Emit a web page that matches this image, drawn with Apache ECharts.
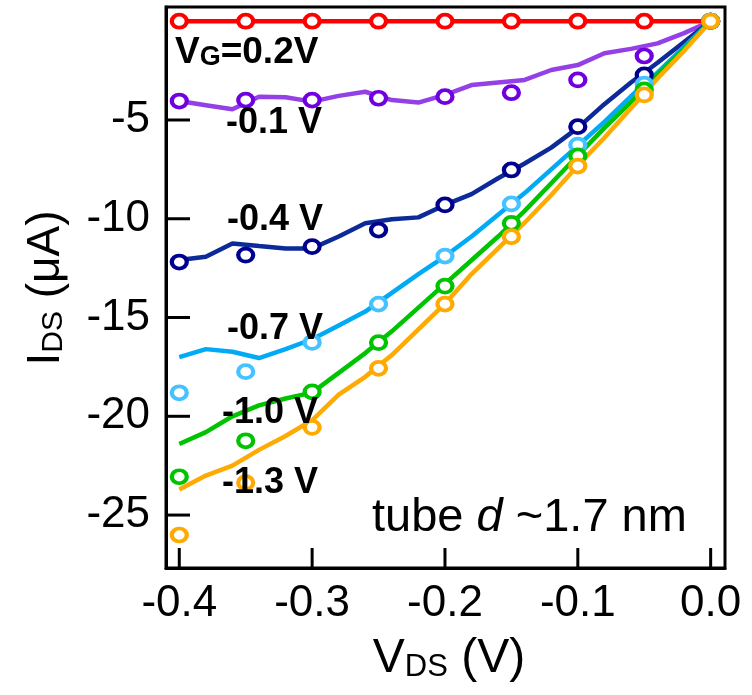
<!DOCTYPE html>
<html><head><meta charset="utf-8">
<script src="https://cdn.jsdelivr.net/npm/echarts@6/dist/echarts.min.js"></script>
<style>html,body{margin:0;padding:0;background:#fff}#c{width:752px;height:695px}</style>
</head><body><div id="c"></div>
<script>
// ---- data ----
const markerX = [-0.40,-0.35,-0.30,-0.25,-0.20,-0.15,-0.10,-0.05,0.00];
const lineX = [-0.40,-0.38,-0.36,-0.34,-0.32,-0.30,-0.28,-0.26,-0.24,-0.22,-0.20,-0.18,-0.16,-0.14,-0.12,-0.10,-0.08,-0.06,-0.04,-0.02,0.00];
const gateNames = ['0.2 V','-0.1 V','-0.4 V','-0.7 V','-1.0 V','-1.3 V'];

const markersVg02  = [0,0,0,0,0,0,0,0,0];
const markersVgm01 = [-4.04,-3.99,-3.99,-3.90,-3.82,-3.62,-2.97,-1.76,0];
const markersVgm04 = [-12.19,-11.84,-11.41,-10.57,-9.30,-7.53,-5.34,-2.72,0];
const markersVgm07 = [-18.81,-17.74,-16.26,-14.32,-11.89,-9.25,-6.27,-3.18,0];
const markersVgm10 = [-23.06,-21.24,-18.76,-16.27,-13.41,-10.23,-6.82,-3.48,0];
const markersVgm13 = [-26.01,-23.36,-20.56,-17.57,-14.32,-10.91,-7.33,-3.73,0];

const lineVg02  = [0,0,0,0,0,0,0,0,0,0,0,0,0,0,0,0,0,0,0,0,0];
const lineVgm01 = [-4.04,-4.25,-4.46,-3.82,-3.85,-4.07,-3.78,-3.57,-3.99,-4.12,-3.73,-3.23,-3.10,-2.97,-2.47,-2.22,-1.62,-1.40,-1.12,-0.60,0];
const lineVgm04 = [-12.09,-11.92,-11.25,-11.38,-11.50,-11.50,-10.90,-10.23,-10.03,-9.93,-9.30,-8.75,-7.95,-7.20,-6.40,-5.40,-4.20,-3.10,-2.10,-1.05,0];
const lineVgm07 = [-17.00,-16.60,-16.73,-17.05,-16.60,-16.10,-15.40,-14.70,-13.75,-12.80,-11.90,-10.90,-9.80,-8.70,-7.50,-6.30,-5.10,-3.80,-2.60,-1.30,0];
const lineVgm10 = [-21.40,-20.80,-20.00,-19.45,-19.10,-18.80,-17.80,-16.80,-15.70,-14.50,-13.30,-12.10,-10.90,-9.60,-8.20,-6.80,-5.40,-4.10,-2.70,-1.40,0];
const lineVgm13 = [-23.70,-23.00,-22.50,-21.70,-21.00,-20.20,-18.90,-18.00,-16.90,-15.60,-14.30,-12.80,-11.50,-10.20,-8.80,-7.30,-5.90,-4.40,-2.90,-1.50,0];

const xTicks = [-0.4,-0.3,-0.2,-0.1,0.0];
const yTicks = [-25,-20,-15,-10,-5];

// ---- styling ----
const X_MIN = -0.41, X_MAX = 0.0108, Y_MIN = -27.68, Y_MAX = 0.72;
const markerVals = [markersVg02,markersVgm01,markersVgm04,markersVgm07,markersVgm10,markersVgm13];
const lineVals = [lineVg02,lineVgm01,lineVgm04,lineVgm07,lineVgm10,lineVgm13];
const lineColors = ['#ff0000','#9340e6','#0c2a98','#00aaf5','#00c400','#ffaa00'];
const markerColors = ['#ff0000','#7000e0','#00008f','#45c2ff','#00c400','#ffaa00'];
const FONT = 'Liberation Sans, Arial, sans-serif';

const series = [];
lineVals.forEach((vals,i)=>{
  series.push({type:'line', name:gateNames[i]+' fit', data: lineX.map((x,j)=>[x, vals[j]]),
    symbol:'none', showSymbol:false, lineStyle:{color:lineColors[i], width:4.5}, z:2, silent:true});
});
markerVals.forEach((vals,i)=>{
  series.push({type:'scatter', name:gateNames[i], data: markerX.map((x,j)=>[x, vals[j]]),
    symbol:'circle', symbolSize:[15,13],
    itemStyle:{color:'#fff', borderColor:markerColors[i], borderWidth:4, opacity:1}, z:3, silent:true});
});
// inward tick marks, positioned through the axis scales (api.coord)
series.push({type:'custom', name:'xticks', z:4, silent:true, clip:false,
  data: xTicks.map(t=>[t, Y_MIN]),
  renderItem:(params, api)=>{
    const p = api.coord([api.value(0), api.value(1)]);
    return {type:'line', shape:{x1:p[0], y1:p[1], x2:p[0], y2:p[1]-20}, style:{stroke:'#000', lineWidth:3}};
  }});
series.push({type:'custom', name:'yticks', z:4, silent:true, clip:false,
  data: yTicks.map(t=>[X_MIN, t]),
  renderItem:(params, api)=>{
    const p = api.coord([api.value(0), api.value(1)]);
    return {type:'line', shape:{x1:p[0], y1:p[1], x2:p[0]+24, y2:p[1]}, style:{stroke:'#000', lineWidth:3}};
  }});

const bold = {fontFamily:FONT, fontSize:36, fontWeight:'bold', fill:'#000', verticalAlign:'middle', align:'left'};
const titleRich = (mainSize, subSize) => ({
  m:{fontFamily:FONT,fontSize:mainSize,fill:'#000',lineHeight:60,verticalAlign:'bottom'},
  s:{fontFamily:FONT,fontSize:subSize,fill:'#000',lineHeight:24,verticalAlign:'bottom'}});
const graphics = [
  {type:'text', x:175, y:48, z:100, style:{fill:'#000', verticalAlign:'middle', align:'left',
    text:'{b|V}{g|G}{b|=0.2V}',
    rich:{b:{fontFamily:FONT,fontSize:37,fontWeight:'bold',fill:'#000',lineHeight:46,verticalAlign:'bottom'},
          g:{fontFamily:FONT,fontSize:27,fontWeight:'bold',fill:'#000',lineHeight:20,verticalAlign:'bottom'}}}},
  {type:'text', x:226, y:123, z:100, style:Object.assign({}, bold, {text:'-0.1 V'})},
  {type:'text', x:227, y:220, z:100, style:Object.assign({}, bold, {text:'-0.4 V'})},
  {type:'text', x:227, y:329, z:100, style:Object.assign({}, bold, {text:'-0.7 V'})},
  {type:'text', x:222, y:413, z:100, style:Object.assign({}, bold, {text:'-1.0 V'})},
  {type:'text', x:222, y:483, z:100, style:Object.assign({}, bold, {text:'-1.3 V'})},
  {type:'text', x:372, y:518, z:100, style:{fill:'#000', verticalAlign:'middle', align:'left',
    text:'{n|tube }{i|d}{n| ~1.7 nm}',
    rich:{n:{fontFamily:FONT,fontSize:47,fill:'#000'}, i:{fontFamily:FONT,fontSize:47,fontStyle:'italic',fill:'#000'}}}},
  {type:'text', x:449, y:653, z:100, style:{fill:'#000', align:'center', verticalAlign:'middle',
    text:'{m|V}{s|DS}{m| (V)}', rich:titleRich(48,31)}},
  {type:'text', x:39, y:288, rotation:Math.PI/2, z:100, style:{fill:'#000', align:'center', verticalAlign:'middle',
    text:'{m|I}{s|DS}{m| (μA)}', rich:titleRich(46,30)}}
];

const chart = echarts.init(document.getElementById('c'));
chart.setOption({
  animation:false,
  backgroundColor:'#fff',
  grid:{left:166, right:27, top:7, bottom:127, show:true, borderColor:'#000', borderWidth:3},
  xAxis:{type:'value', min:X_MIN, max:X_MAX,
    axisLine:{show:true, onZero:false, lineStyle:{color:'#000', width:3}}, splitLine:{show:false},
    axisTick:{show:false},
    axisLabel:{customValues:xTicks, fontSize:44, color:'#000', margin:14, fontFamily:FONT,
      formatter:v=>Number(v).toFixed(1)}
  },
  yAxis:{type:'value', min:Y_MIN, max:Y_MAX,
    axisLine:{show:true, onZero:false, lineStyle:{color:'#000', width:3}}, splitLine:{show:false},
    axisTick:{show:false},
    axisLabel:{customValues:yTicks, fontSize:44, color:'#000', margin:16, fontFamily:FONT}
  },
  series: series,
  graphic: graphics
});
</script></body></html>
